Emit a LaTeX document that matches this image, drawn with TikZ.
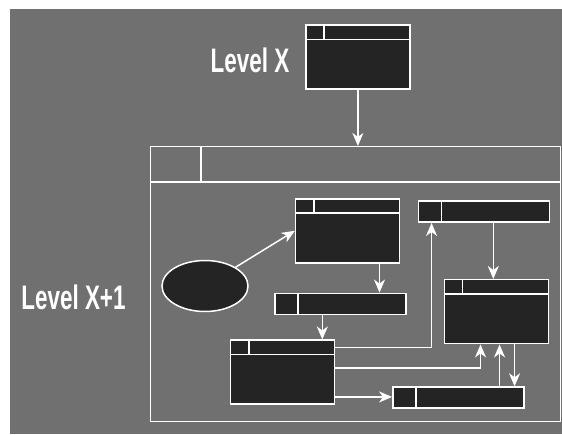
\documentclass[tikz,border=0pt]{standalone}
\usepackage{fontspec}
\setmainfont{Liberation Sans}
\usepackage{graphicx}
\usepackage{tikz}
\usetikzlibrary{shapes,arrows.meta,positioning}
\usepackage{xcolor}
\definecolor{scangray}{RGB}{112,112,112}
\definecolor{boxdark}{RGB}{36,36,36}

\begin{document}
\begin{tikzpicture}[x=1pt, y=-1pt,
        win/.style={rectangle, draw=white, fill=boxdark, line width=1.5pt, inner sep=0pt, minimum width=104pt, minimum height=64pt},
        bar/.style={rectangle, draw=white, fill=boxdark, line width=1.5pt, inner sep=0pt, minimum width=131pt, minimum height=21pt},
        blob/.style={ellipse, draw=white, fill=boxdark, line width=1.5pt, inner sep=0pt, minimum width=86pt, minimum height=51pt},
        frm/.style={rectangle, draw=white, line width=1.5pt, inner sep=0pt, minimum width=410pt, minimum height=275pt},
        lvl/.style={text=white, font=\bfseries\fontsize{34}{34}\selectfont, inner sep=0pt},
        wline/.style={draw=white, line width=1.5pt},
        arrow/.style={->, >={Stealth[length=13pt, width=11pt, inset=4pt]}, draw=white, line width=1.5pt}
    ]
        \useasboundingbox (0,0) rectangle (562,434);
        \fill[scangray] (10,9) rectangle (562,434);

        \node[lvl] (lx) at (250,60) {\scalebox{0.66}[1]{Level X}};
        \node[lvl] (lx1) at (73.5,297.5) {\scalebox{0.66}[1]{Level X+1}};

        \node[win] (top) at (357.9,57) {};
        \node[frm] (frame) at (355.6,284.2) {};
        \node[win] (a) at (347.5,230.8) {};
        \node[bar] (b) at (483.8,211.7) {};
        \node[bar] (c) at (340.3,303.8) {};
        \node[win] (d) at (496.3,311.7) {};
        \node[win] (e) at (282.5,372.2) {};
        \node[bar] (f) at (458.3,397.5) {};
        \node[blob] (ell) at (205,286) {};

        % title bars and cells
        \foreach \n in {top,a,d,e} {
            \draw[wline] ([yshift=-15pt]\n.north west) -- ([yshift=-15pt]\n.north east);
            \draw[wline] ([xshift=19pt]\n.north west) -- ([xshift=19pt,yshift=-15pt]\n.north west);
        }
        \foreach \n in {b,c,f}
            \draw[wline] ([xshift=24pt]\n.north west) -- ([xshift=24pt]\n.south west);
        \draw[wline] ([yshift=-36pt]frame.north west) -- ([yshift=-36pt]frame.north east);
        \draw[wline] ([xshift=51pt]frame.north west) -- ([xshift=51pt,yshift=-36pt]frame.north west);

        % connectors
        \draw[arrow] (top.south) -- (top.south |- frame.north);
        \draw[arrow] (ell) -- (a.west);
        \draw[arrow] ([xshift=-3pt]d.north |- b.south) -- ([xshift=-3pt]d.north);
        \draw[arrow] ([xshift=32pt]a.south) -- ([xshift=32pt]a.south |- c.north);
        \draw[arrow] ([xshift=-18pt]c.south) -- ([xshift=-18pt]c.south |- e.north);
        \draw[arrow] ([yshift=-8pt]e.north east) -| ([xshift=14pt]b.south west);
        \draw[arrow] ([yshift=4pt]e.east) -| ([xshift=37pt]d.south west);
        \draw[arrow] ([yshift=8pt]e.south east) -- ([yshift=8pt]e.south east -| f.west);
        \draw[arrow] ([xshift=-25pt]f.north east) -- ([xshift=-25pt]f.north east |- d.south);
        \draw[arrow] ([xshift=-10pt]f.north east |- d.south) -- ([xshift=-10pt]f.north east);
    \end{tikzpicture}
\end{document}
